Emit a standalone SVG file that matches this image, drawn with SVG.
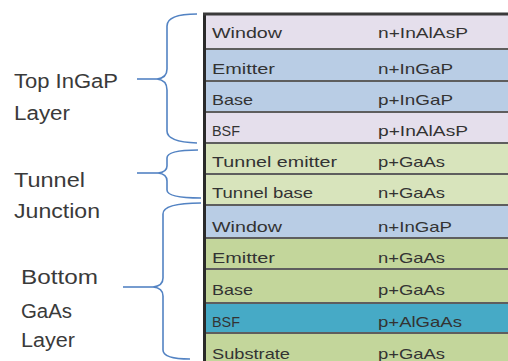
<svg xmlns="http://www.w3.org/2000/svg" width="508" height="361" viewBox="0 0 508 361">
<style>
.cell{stroke:none}
.lav{fill:#e5dfec}
.blu{fill:#b9cde5}
.lgr{fill:#d8e4bc}
.grn{fill:#c3d69b}
.teal{fill:#46aac6}
.sep{stroke:#5e5e5e;stroke-width:2;fill:none}
.t{font-family:"Liberation Sans",Arial,sans-serif;font-size:15px;fill:#333}
.lbl{font-family:"Liberation Sans",Arial,sans-serif;font-size:20px;fill:#3a3a3a}
.brace{stroke:#5383c3;stroke-width:1.6;fill:none}
</style>
<rect width="508" height="361" fill="#ffffff"/>
<g id="layers">
<g id="row-window-top"><rect class="cell lav" x="205" y="14" width="303" height="35"/><text class="t" x="212" y="38" textLength="70" lengthAdjust="spacingAndGlyphs">Window</text><text class="t" x="378" y="38" textLength="90" lengthAdjust="spacingAndGlyphs">n+InAlAsP</text></g>
<g id="row-emitter-top"><rect class="cell blu" x="205" y="49" width="303" height="32"/><text class="t" x="212" y="74" textLength="63" lengthAdjust="spacingAndGlyphs">Emitter</text><text class="t" x="378" y="74" textLength="75" lengthAdjust="spacingAndGlyphs">n+InGaP</text></g>
<g id="row-base-top"><rect class="cell blu" x="205" y="81" width="303" height="31"/><text class="t" x="212" y="105" textLength="41" lengthAdjust="spacingAndGlyphs">Base</text><text class="t" x="378" y="105" textLength="75" lengthAdjust="spacingAndGlyphs">p+InGaP</text></g>
<g id="row-bsf-top"><rect class="cell lav" x="205" y="112" width="303" height="31"/><text class="t" x="212" y="136" textLength="28" lengthAdjust="spacingAndGlyphs">BSF</text><text class="t" x="378" y="136" textLength="90" lengthAdjust="spacingAndGlyphs">p+InAlAsP</text></g>
<g id="row-tunnel-emitter"><rect class="cell lgr" x="205" y="143" width="303" height="31"/><text class="t" x="212" y="167" textLength="125" lengthAdjust="spacingAndGlyphs">Tunnel emitter</text><text class="t" x="378" y="167" textLength="67" lengthAdjust="spacingAndGlyphs">p+GaAs</text></g>
<g id="row-tunnel-base"><rect class="cell lgr" x="205" y="174" width="303" height="31"/><text class="t" x="212" y="198" textLength="101" lengthAdjust="spacingAndGlyphs">Tunnel base</text><text class="t" x="378" y="198" textLength="67" lengthAdjust="spacingAndGlyphs">n+GaAs</text></g>
<g id="row-window-bottom"><rect class="cell blu" x="205" y="205" width="303" height="33"/><text class="t" x="212" y="232" textLength="70" lengthAdjust="spacingAndGlyphs">Window</text><text class="t" x="378" y="232" textLength="74" lengthAdjust="spacingAndGlyphs">n+InGaP</text></g>
<g id="row-emitter-bottom"><rect class="cell grn" x="205" y="238" width="303" height="31"/><text class="t" x="212" y="263" textLength="63" lengthAdjust="spacingAndGlyphs">Emitter</text><text class="t" x="378" y="263" textLength="67" lengthAdjust="spacingAndGlyphs">n+GaAs</text></g>
<g id="row-base-bottom"><rect class="cell grn" x="205" y="269" width="303" height="34"/><text class="t" x="212" y="295" textLength="41" lengthAdjust="spacingAndGlyphs">Base</text><text class="t" x="378" y="295" textLength="67" lengthAdjust="spacingAndGlyphs">p+GaAs</text></g>
<g id="row-bsf-bottom"><rect class="cell teal" x="205" y="303" width="303" height="30"/><text class="t" x="212" y="327" textLength="28" lengthAdjust="spacingAndGlyphs">BSF</text><text class="t" x="378" y="327" textLength="84" lengthAdjust="spacingAndGlyphs">p+AlGaAs</text></g>
<g id="row-substrate"><rect class="cell grn" x="205" y="333" width="303" height="28"/><text class="t" x="212" y="359" textLength="78" lengthAdjust="spacingAndGlyphs">Substrate</text><text class="t" x="378" y="359" textLength="67" lengthAdjust="spacingAndGlyphs">p+GaAs</text></g>
<path class="sep" d="M205,49H508M205,81H508M205,112H508M205,143H508M205,174H508M205,205H508M205,238H508M205,269H508M205,303H508M205,333H508"/>
<path d="M204.5,14V361" stroke="#2a2a2a" stroke-width="3" fill="none"/>
<path d="M203,14H508" stroke="#3a3a3a" stroke-width="3" fill="none"/>
</g>
<g id="label-top"><text class="lbl" x="14" y="88" textLength="104" lengthAdjust="spacingAndGlyphs">Top InGaP</text><text class="lbl" x="14" y="120" textLength="56" lengthAdjust="spacingAndGlyphs">Layer</text></g>
<g id="label-tunnel"><text class="lbl" x="14" y="187" textLength="71" lengthAdjust="spacingAndGlyphs">Tunnel</text><text class="lbl" x="14" y="218" textLength="86" lengthAdjust="spacingAndGlyphs">Junction</text></g>
<g id="label-bottom"><text class="lbl" x="21" y="284" textLength="77" lengthAdjust="spacingAndGlyphs">Bottom</text><text class="lbl" x="21" y="318" textLength="51" lengthAdjust="spacingAndGlyphs">GaAs</text><text class="lbl" x="21" y="347" textLength="54" lengthAdjust="spacingAndGlyphs">Layer</text></g>
<g id="connectors">
<path class="brace" d="M197,14 Q167,14 167,26 L167,69 Q167,78 157,79 Q167,80 167,90 L167,131 Q167,142 197,143"/>
<path class="brace" d="M137,79 L157,79"/>
<path class="brace" d="M198,150 Q167,150 167,158 L167,166 Q167,172 158,173 Q167,174 167,181 L167,190 Q167,198 201,198"/>
<path class="brace" d="M137,173 L158,173"/>
<path class="brace" d="M201,203 Q163,203 163,214 L163,278 Q163,286 153,287 Q163,288 163,296 L163,350 Q163,359 190,359"/>
<path class="brace" d="M123,287 L153,287"/>
</g>
</svg>
